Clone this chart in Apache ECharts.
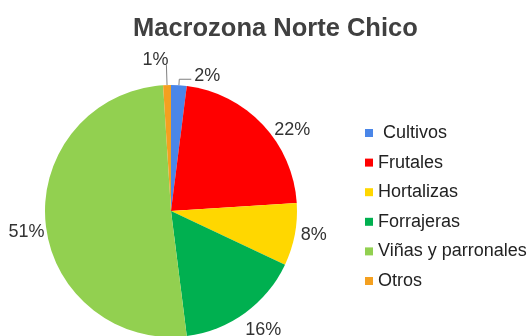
<!DOCTYPE html>
<html>
<head>
<meta charset="utf-8">
<script src="https://cdn.jsdelivr.net/npm/echarts@6/dist/echarts.min.js"></script>
<style>html,body{margin:0;padding:0;background:#fff;}#c{width:531px;height:336px;}</style>
</head>
<body>
<div id="c"></div>
<script>
const categories = ['Cultivos', 'Frutales', 'Hortalizas', 'Forrajeras', 'Viñas y parronales', 'Otros'];
const values = [2, 22, 8, 16, 51, 1];
const colors = ['#4A86E8', '#FF0000', '#FFD700', '#00B050', '#92D050', '#F4A020'];
const titleText = 'Macrozona Norte Chico';

const FONT = "'Liberation Sans', Arial, sans-serif";
// label nudges (px) relative to library's outside-label placement
const labelNudge = [[0, -3], [7, 7], [1, 0], [-4, 15], [4, 9], [5, -5]];
const lineShown = [true, false, false, false, false, true];
const lineLen = [6, 2, 2, 2, 2, 20];
const lineLen2 = [12, 0, 0, 0, 0, 0];

const data = categories.map((name, i) => ({
  name: name,
  value: values[i],
  itemStyle: { color: colors[i] },
  labelLine: { show: lineShown[i], length: lineLen[i], length2: lineLen2[i] }
}));

const chart = echarts.init(document.getElementById('c'), null, { renderer: 'canvas' });
chart.setOption({
  animation: false,
  backgroundColor: '#fff',
  title: {
    text: titleText,
    left: 133,
    top: 16,
    padding: 0,
    textStyle: { fontFamily: FONT, fontSize: 25.5, fontWeight: 'bold', color: '#404040' }
  },
  legend: {
    orient: 'vertical',
    left: 365,
    top: 124,
    padding: 0,
    itemWidth: 8,
    itemHeight: 8,
    itemGap: 11.6,
    icon: 'rect',
    data: categories,
    formatter: function (n) { return n === 'Cultivos' ? ' ' + n : n; },
    textStyle: { fontFamily: FONT, fontSize: 18, color: '#222' }
  },
  series: [{
    type: 'pie',
    center: [171, 211],
    radius: 126,
    startAngle: 90,
    clockwise: true,
    avoidLabelOverlap: false,
    itemStyle: { borderWidth: 0 },
    label: {
      show: true,
      position: 'outside',
      formatter: '{c}%',
      fontFamily: FONT,
      fontSize: 18,
      color: '#333',
      distanceToLabelLine: 3
    },
    labelLine: { lineStyle: { color: '#7f7f7f', width: 1 }, smooth: false },
    labelLayout: function (p) {
      const n = labelNudge[p.dataIndex];
      return { dx: n[0], dy: n[1] };
    },
    emphasis: { disabled: true },
    data: data
  }]
});
</script>
</body>
</html>
